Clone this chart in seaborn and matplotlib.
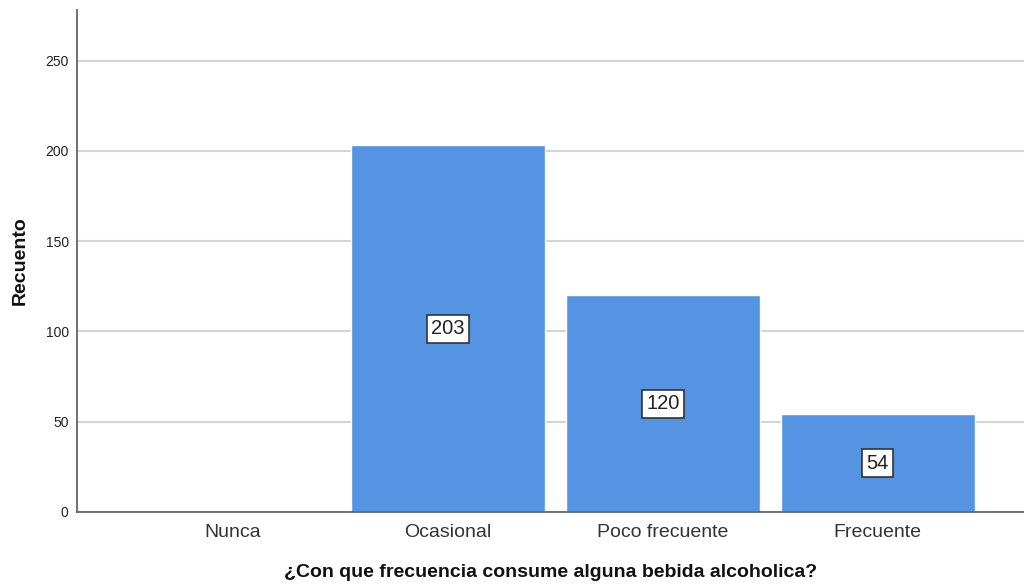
import pandas as pd
import matplotlib
matplotlib.use("Agg")
import matplotlib.pyplot as plt
import seaborn as sns

categorias = ["Nunca", "Ocasional", "Poco frecuente", "Frecuente"]
recuento = [0, 203, 120, 54]

df = pd.DataFrame({"categoria": categorias, "recuento": recuento})

sns.set_style("white")
plt.rcParams['font.family'] = ['Liberation Sans', 'DejaVu Sans']

fig = plt.figure(figsize=(10.24, 5.85), dpi=100)
ax = fig.add_axes([0.0752, 0.1248, 0.9248, 0.858])

sns.barplot(data=df, x="categoria", y="recuento", order=categorias,
            color="#5494E3", saturation=1, width=0.9, ax=ax, zorder=2)

ax.set_ylim(0, 278)
ax.set_xlim(-0.726, 3.68)
ax.set_yticks([0, 50, 100, 150, 200, 250])
ax.yaxis.grid(True, color="#d4d4d4", linewidth=1.5, zorder=0)
ax.set_axisbelow(True)
ax.tick_params(axis="y", length=0, labelsize=10, colors="#222222", pad=6)
ax.tick_params(axis="x", length=0, labelsize=14, colors="#333333", pad=9)
for s in ["top", "right"]:
    ax.spines[s].set_visible(False)
for s in ["left", "bottom"]:
    ax.spines[s].set_color("#666666")
    ax.spines[s].set_linewidth(1.3)

ax.set_xlabel("¿Con que frecuencia consume alguna bebida alcoholica?",
              fontsize=14, fontweight="bold", labelpad=16.5, color="#111111")
ax.set_ylabel("Recuento", fontsize=14, fontweight="bold", labelpad=12,
              color="#111111")

for i, v in enumerate(recuento):
    if v > 0:
        ax.text(i, v / 2, str(v), ha="center", va="center", fontsize=14.5,
                color="#222222", zorder=5,
                bbox=dict(boxstyle="square,pad=0.22", facecolor="white",
                          edgecolor="#333333", linewidth=1.2))

fig.savefig("out.png", dpi=100)
